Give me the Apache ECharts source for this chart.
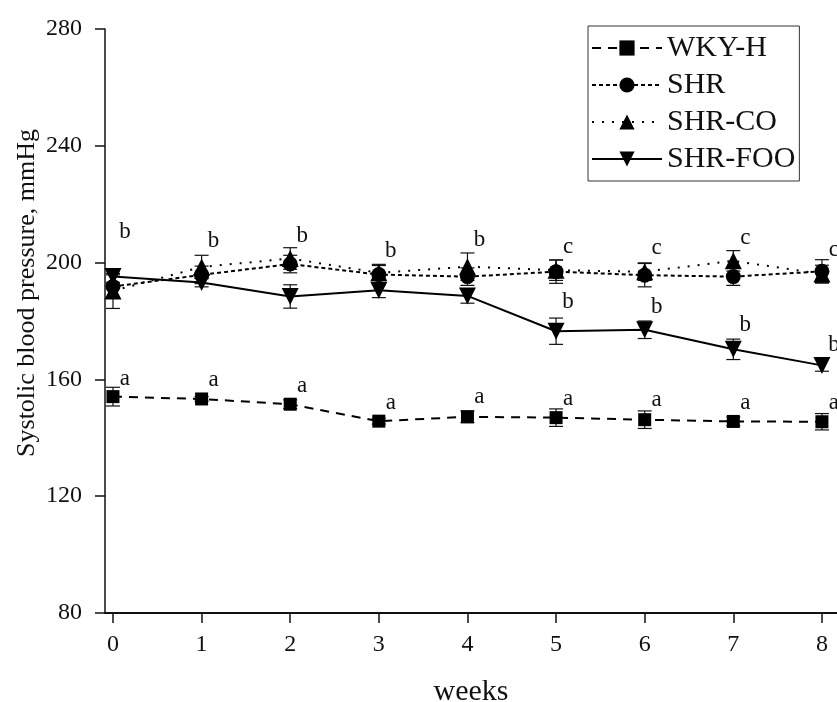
<!DOCTYPE html>
<html>
<head>
<meta charset="utf-8">
<script src="https://cdn.jsdelivr.net/npm/echarts@6/dist/echarts.min.js"></script>
<style>
html, body { margin: 0; padding: 0; background: #fff; }
#chart { width: 837px; height: 702px; }
</style>
</head>
<body>
<div id="chart"></div>
<script>
// values (mean, +/- error)
const weeks = [0, 1, 2, 3, 4, 5, 6, 7, 8]
const wkyH = [154.1, 153.3, 151.5, 145.7, 147.2, 146.9, 146.2, 145.6, 145.5]
const wkyHErr = [3.2, 0.8, 1.5, 1.0, 2.0, 3.0, 3.0, 1.5, 2.8]
const shr = [191.8, 195.8, 199.5, 195.9, 195.2, 196.9, 195.7, 195.2, 197.0]
const shrErr = [4, 3, 3, 3.5, 3, 4, 4, 3, 4]
const shrCO = [190.3, 198.5, 201.4, 196.5, 198.6, 197.4, 196.9, 200.6, 196.1]
const shrCOErr = [6, 4, 3.7, 2.5, 4.7, 3.5, 3, 3.5, 3]
const shrFOO = [195.2, 193.2, 188.4, 190.5, 188.6, 176.5, 177.0, 170.3, 164.8]
const shrFOOErr = [2, 1.5, 4, 2.5, 2.5, 4.5, 3, 3.5, 2]

// significance letters and where they sit (mmHg)
const groupLetters = ['b', 'b', 'b', 'b', 'b', 'c', 'c', 'c', 'c']
const groupLetterY = [210.5, 207.4, 209.1, 204, 207.7, 205.3, 205, 208.4, 204.3]
const fooLetterWeeks = [5, 6, 7, 8]
const fooLetters = ['b', 'b', 'b', 'b']
const fooLetterY = [186.6, 184.9, 178.6, 171.8]
const wkyLetters = ['a', 'a', 'a', 'a', 'a', 'a', 'a', 'a', 'a']
const wkyLetterY = [160.1, 159.8, 157.7, 152, 154.1, 153.3, 152.9, 152, 152]

const yTicks = [80, 120, 160, 200, 240, 280]
const FONT = 'Liberation Serif'

function pairs (ys) {
  return weeks.map((w, i) => [w, ys[i]])
}

function errorSeries (ys, errs) {
  return {
    type: 'custom',
    silent: true,
    z: 1,
    data: weeks.map((w, i) => [w, ys[i] - errs[i], ys[i] + errs[i]]),
    renderItem: function (params, api) {
      const lo = api.coord([api.value(0), api.value(1)])
      const hi = api.coord([api.value(0), api.value(2)])
      const cap = 7
      const style = { stroke: '#111', lineWidth: 1.2 }
      return {
        type: 'group',
        children: [
          { type: 'line', shape: { x1: lo[0], y1: lo[1], x2: hi[0], y2: hi[1] }, style: style },
          { type: 'line', shape: { x1: lo[0] - cap, y1: lo[1], x2: lo[0] + cap, y2: lo[1] }, style: style },
          { type: 'line', shape: { x1: hi[0] - cap, y1: hi[1], x2: hi[0] + cap, y2: hi[1] }, style: style }
        ]
      }
    }
  }
}

function letterSeries (xs, ys, letters) {
  return {
    type: 'custom',
    silent: true,
    z: 5,
    clip: false,
    data: xs.map((x, i) => [x, ys[i], letters[i]]),
    renderItem: function (params, api) {
      const p = api.coord([api.value(0), api.value(1)])
      return {
        type: 'text',
        x: p[0] + 12,
        y: p[1],
        style: {
          text: letters[params.dataIndex],
          fontFamily: FONT,
          fontSize: 23,
          fill: '#111',
          align: 'center',
          verticalAlign: 'middle'
        }
      }
    }
  }
}

const lineBase = {
  type: 'line',
  z: 3,
  color: '#000',
  itemStyle: { color: '#000' }
}

const option = {
  animation: false,
  backgroundColor: '#fff',
  grid: { left: 105, right: 0, top: 29, bottom: 89, outerBoundsMode: 'none', containLabel: false },
  legend: {
    orient: 'vertical',
    left: 588,
    top: 26,
    padding: [7, 4, 7, 3],
    itemWidth: 70,
    itemHeight: 19,
    itemGap: 7,
    borderColor: '#333',
    borderWidth: 1,
    backgroundColor: '#fff',
    textStyle: { fontFamily: FONT, fontSize: 30, color: '#111', lineHeight: 30 },
    data: ['WKY-H', 'SHR', 'SHR-CO', 'SHR-FOO']
  },
  xAxis: {
    type: 'value',
    min: -0.09,
    max: 8.17,
    name: 'weeks',
    nameLocation: 'middle',
    nameGap: 64,
    nameTextStyle: { fontFamily: FONT, fontSize: 30, color: '#111' },
    splitLine: { show: false },
    axisLine: { onZero: false, lineStyle: { color: '#111', width: 2 } },
    axisTick: { customValues: weeks, length: 10, lineStyle: { color: '#111', width: 1.5 } },
    axisLabel: { customValues: weeks, margin: 20, fontFamily: FONT, fontSize: 24, color: '#111' }
  },
  yAxis: {
    type: 'value',
    min: 80,
    max: 280,
    interval: 40,
    name: 'Systolic blood pressure, mmHg',
    nameLocation: 'middle',
    nameGap: 65,
    nameMoveOverlap: false,
    nameTextStyle: { fontFamily: FONT, fontSize: 26, color: '#111', padding: [0, 0, 0, 56] },
    splitLine: { show: false },
    axisLine: { show: true, onZero: false, lineStyle: { color: '#111', width: 1.5 } },
    axisTick: { show: true, length: 10, lineStyle: { color: '#111', width: 1.5 } },
    axisLabel: {
      margin: 23,
      fontFamily: FONT,
      fontSize: 24,
      color: '#111',
      formatter: v => (yTicks.includes(v) ? String(v) : '')
    }
  },
  series: [
    errorSeries(wkyH, wkyHErr),
    errorSeries(shr, shrErr),
    errorSeries(shrCO, shrCOErr),
    errorSeries(shrFOO, shrFOOErr),
    Object.assign({}, lineBase, {
      name: 'WKY-H',
      data: pairs(wkyH),
      symbol: 'rect',
      symbolSize: 13,
      lineStyle: { color: '#000', width: 2, type: [9, 7] }
    }),
    Object.assign({}, lineBase, {
      name: 'SHR',
      data: pairs(shr),
      symbol: 'circle',
      symbolSize: 15,
      lineStyle: { color: '#000', width: 2, type: [4, 3] }
    }),
    Object.assign({}, lineBase, {
      name: 'SHR-CO',
      data: pairs(shrCO),
      symbol: 'triangle',
      symbolSize: 17,
      lineStyle: { color: '#000', width: 2, type: [2, 8] }
    }),
    Object.assign({}, lineBase, {
      name: 'SHR-FOO',
      data: pairs(shrFOO),
      symbol: 'triangle',
      symbolRotate: 180,
      symbolSize: 17,
      lineStyle: { color: '#000', width: 2 }
    }),
    letterSeries(weeks, groupLetterY, groupLetters),
    letterSeries(fooLetterWeeks, fooLetterY, fooLetters),
    letterSeries(weeks, wkyLetterY, wkyLetters)
  ]
}

const chart = echarts.init(document.getElementById('chart'))
chart.setOption(option)
</script>
</body>
</html>
